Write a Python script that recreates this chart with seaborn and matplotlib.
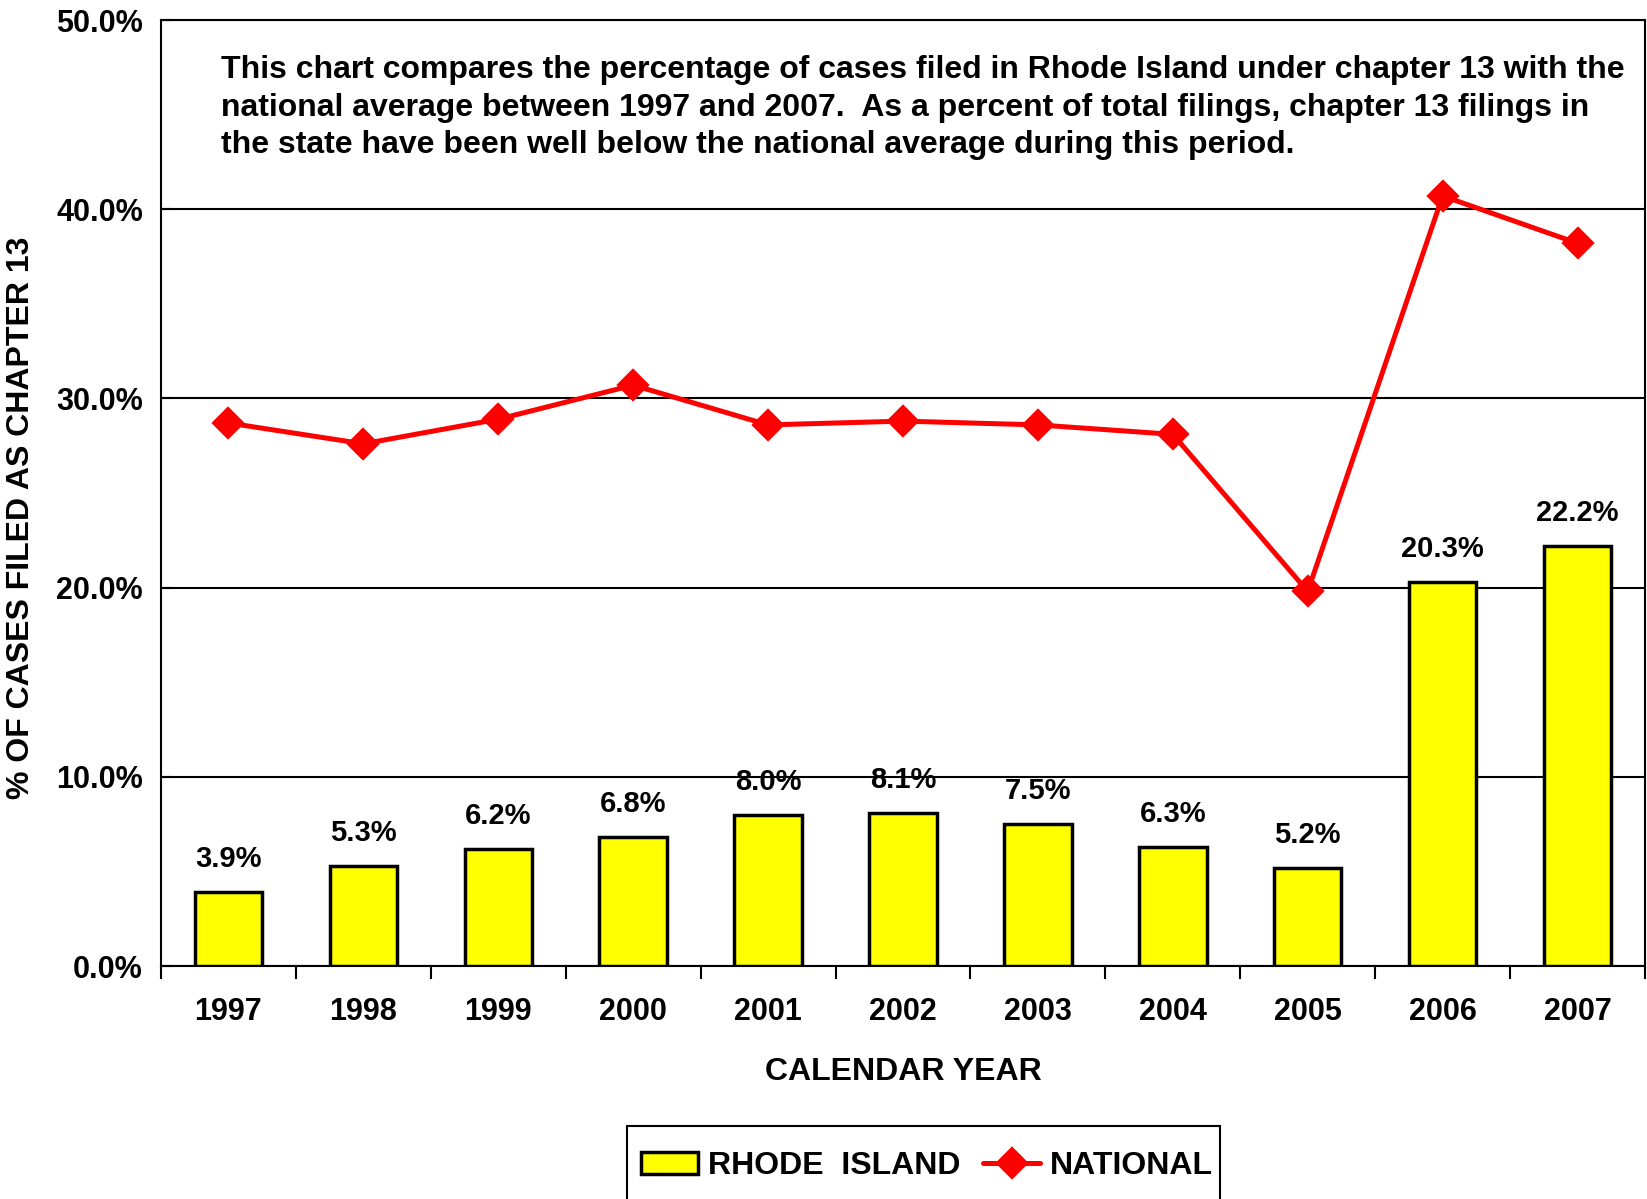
import matplotlib
matplotlib.use("Agg")
import matplotlib.pyplot as plt
import seaborn as sns
import numpy as np
from matplotlib.patches import Rectangle
from matplotlib.ticker import FuncFormatter, FixedLocator

years = ["1997", "1998", "1999", "2000", "2001", "2002", "2003", "2004", "2005", "2006", "2007"]
rhode_island = [3.9, 5.3, 6.2, 6.8, 8.0, 8.1, 7.5, 6.3, 5.2, 20.3, 22.2]
national = [28.7, 27.6, 28.9, 30.7, 28.6, 28.8, 28.6, 28.1, 19.8, 40.7, 38.2]

note = ("This chart compares the percentage of cases filed in Rhode Island under chapter 13 with the\n"
        "national average between 1997 and 2007.  As a percent of total filings, chapter 13 filings in\n"
        "the state have been well below the national average during this period.")

sns.set_style("white")
plt.rcParams["font.family"] = ["Liberation Sans", "DejaVu Sans"]
plt.rcParams["font.weight"] = "bold"
plt.rcParams["text.color"] = "black"
plt.rcParams["axes.labelcolor"] = "black"
plt.rcParams["xtick.color"] = "black"
plt.rcParams["ytick.color"] = "black"

W, H = 1647, 1199
fig = plt.figure(figsize=(W / 100, H / 100), dpi=100)
ax = fig.add_axes([161 / W, 233 / H, 1484 / W, 946 / H])

sns.barplot(x=years, y=rhode_island, color="#ffff00", edgecolor="black",
            linewidth=2.5, width=0.5, saturation=1, ax=ax, label="RHODE  ISLAND", zorder=3)
sns.pointplot(x=years, y=national, color="red", markers="D", linestyles="-",
              errorbar=None, ax=ax, label="NATIONAL", markersize=14, linewidth=3.6)
for coll in ax.collections:
    coll.set_zorder(5)
for ln in ax.lines:
    ln.set_zorder(5)

for i, v in enumerate(rhode_island):
    ax.text(i, v + 1.0, f"{v:.1f}%", ha="center", va="bottom", fontsize=21, fontweight="bold")

ax.set_xlim(-0.5, 10.5)
ax.set_ylim(0, 50)
ax.yaxis.set_major_locator(FixedLocator([0, 10, 20, 30, 40, 50]))
ax.yaxis.set_major_formatter(FuncFormatter(lambda v, p: f"{v:.1f}%"))
ax.grid(axis="y", color="black", linewidth=1.5)
ax.set_axisbelow(True)

for side in ["left", "top", "bottom", "right"]:
    ax.spines[side].set_color("black")
    ax.spines[side].set_linewidth(1.5)

ax.tick_params(axis="y", which="major", direction="in", length=8, width=1.5,
               labelsize=22, pad=13, left=True)
ax.tick_params(axis="x", which="major", length=0, labelsize=22, pad=22)
ax.set_xticks(np.arange(-0.5, 11, 1), minor=True)
ax.tick_params(axis="x", which="minor", direction="out", length=9, width=1.5, bottom=True)
for lab in ax.get_xticklabels() + ax.get_yticklabels():
    lab.set_fontweight("bold")

ax.set_xlabel("CALENDAR YEAR", fontsize=23, fontweight="bold")
ax.xaxis.set_label_coords(0.5, -0.096)
ax.set_ylabel("% OF CASES FILED AS CHAPTER 13", fontsize=23, fontweight="bold")
ax.yaxis.set_label_coords(-0.084, 0.4736)

fig.text(221 / W, 0.954, note, ha="left", va="top", fontsize=23,
         fontweight="bold", linespacing=1.33)

# legend: entries without frame, box drawn separately (it runs off the bottom edge)
handles, labels = ax.get_legend_handles_labels()
order = [labels.index("RHODE  ISLAND"), labels.index("NATIONAL")]
leg = ax.legend([handles[i] for i in order], [labels[i] for i in order],
                loc="center", bbox_to_anchor=(927 / W, (H - 1166) / H),
                bbox_transform=fig.transFigure, ncol=2, fontsize=23, frameon=False,
                handlelength=1.8, handletextpad=0.3, columnspacing=0.7,
                borderpad=0, borderaxespad=0)
for t in leg.get_texts():
    t.set_fontweight("bold")
fig.patches.append(Rectangle((627 / W, -0.02), (1220 - 627) / W, (H - 1126) / H + 0.02,
                             transform=fig.transFigure, fill=False,
                             edgecolor="black", linewidth=1.5))

fig.savefig("out.png", dpi=100)
